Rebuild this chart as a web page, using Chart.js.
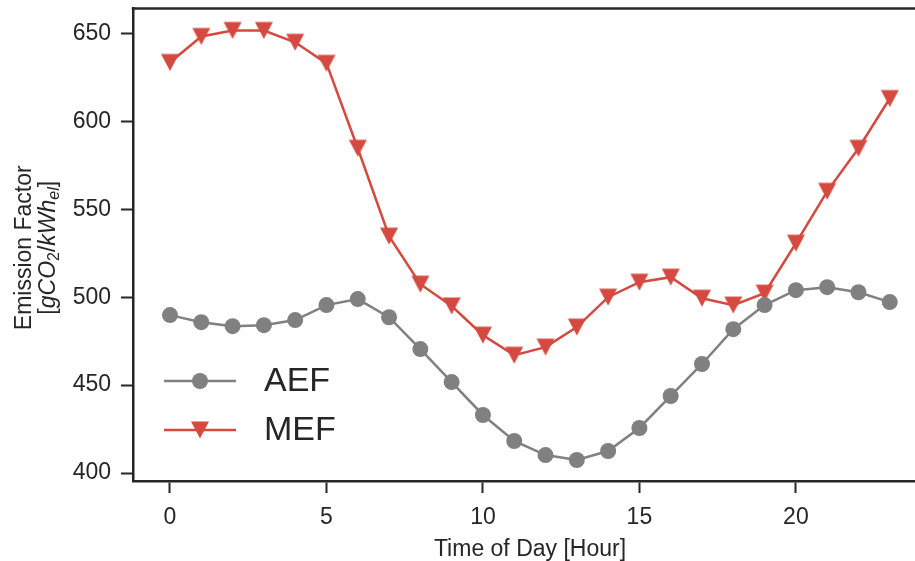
<!DOCTYPE html>
<html>
<head>
<meta charset="utf-8">
<script src="https://cdn.jsdelivr.net/npm/chart.js@4.4.0/dist/chart.umd.min.js"></script>
<style>
  html, body { margin: 0; padding: 0; background: #fff; overflow: hidden; }
  /* chart.js keeps ~12px above the plot for the marker overflow; pull it up a bit */
  canvas { display: block; margin-top: -4px; }
</style>
</head>
<body>
<canvas id="myChart" width="940" height="565"></canvas>
<script>
// hourly emission factors
var hours = [0, 1, 2, 3, 4, 5, 6, 7, 8, 9, 10, 11, 12, 13, 14, 15, 16, 17, 18, 19, 20, 21, 22, 23];
var aefValues = [489.8, 485.8, 483.5, 484.1, 487.0, 495.5, 498.9, 488.6, 470.5, 451.7, 433.0, 418.2,
                 410.2, 407.4, 412.5, 425.6, 443.8, 462.0, 481.8, 495.5, 504.0, 505.7, 502.8, 497.2];
var mefValues = [633.5, 648.3, 651.7, 651.7, 645.0, 633.0, 584.7, 534.7, 507.4, 495.0, 478.4, 467.0,
                 471.6, 483.0, 500.0, 508.5, 511.4, 499.4, 495.5, 502.3, 530.7, 560.2, 584.7, 613.0];
var xTickValues = [0, 5, 10, 15, 20];
var yTickValues = [400, 450, 500, 550, 600, 650];
var seriesNames = ['AEF', 'MEF'];

var ink = '#262626';
var grey = '#808080';
var red = '#d44a40';
var fontFamily = '"Liberation Sans", Arial, sans-serif';

// matplotlib-like "v" marker, centred on its bounding box
function makeTriangle(color) {
  var c = document.createElement('canvas');
  c.width = 20; c.height = 20;
  var g = c.getContext('2d');
  g.fillStyle = color;
  g.beginPath();
  g.moveTo(1, 1.5);
  g.lineTo(19, 1.5);
  g.lineTo(10, 18.5);
  g.closePath();
  g.fill();
  return c;
}
var triangle = makeTriangle(red);

function toPoints(values) {
  return hours.map(function (h, i) { return { x: h, y: values[i] }; });
}

var frame = {
  id: 'frame',
  afterDraw: function (chart) {
    var ctx = chart.ctx;
    var area = chart.chartArea;
    ctx.save();
    // top spine
    ctx.strokeStyle = ink;
    ctx.lineWidth = 2.5;
    ctx.beginPath();
    ctx.moveTo(area.left - 1.25, area.top);
    ctx.lineTo(area.right + 20, area.top);
    ctx.stroke();

    // y axis label with math text
    ctx.fillStyle = ink;
    ctx.translate(31, (area.top + area.bottom) / 2 + 3);
    ctx.rotate(-Math.PI / 2);
    ctx.textBaseline = 'alphabetic';
    ctx.textAlign = 'center';
    ctx.font = '23px ' + fontFamily;
    ctx.fillText('Emission Factor', 0, 0);

    var size = 23, sub = 16;
    var parts = [
      { t: '[', f: size + 'px ' + fontFamily, dy: 0 },
      { t: 'gCO', f: 'italic ' + size + 'px ' + fontFamily, dy: 0 },
      { t: '2', f: sub + 'px ' + fontFamily, dy: 4 },
      { t: '/', f: size + 'px ' + fontFamily, dy: 0 },
      { t: 'kWh', f: 'italic ' + size + 'px ' + fontFamily, dy: 0 },
      { t: 'el', f: 'italic ' + sub + 'px ' + fontFamily, dy: 4 },
      { t: ']', f: size + 'px ' + fontFamily, dy: 0 }
    ];
    var total = 0;
    parts.forEach(function (p) { ctx.font = p.f; p.w = ctx.measureText(p.t).width; total += p.w; });
    var x = -total / 2;
    ctx.textAlign = 'left';
    parts.forEach(function (p) {
      ctx.font = p.f;
      ctx.fillText(p.t, x, 24 + p.dy);
      x += p.w;
    });
    ctx.restore();

    // legend (lower left, inside the axes)
    ctx.save();
    var rows = [
      { name: seriesNames[0], y: 385, color: grey, marker: 'circle' },
      { name: seriesNames[1], y: 434, color: red, marker: 'tri' }
    ];
    rows.forEach(function (r) {
      ctx.strokeStyle = r.color;
      ctx.lineWidth = 2.5;
      ctx.beginPath();
      ctx.moveTo(164, r.y);
      ctx.lineTo(236, r.y);
      ctx.stroke();
      if (r.marker === 'circle') {
        ctx.fillStyle = r.color;
        ctx.beginPath();
        ctx.arc(200, r.y, 8, 0, Math.PI * 2);
        ctx.fill();
      } else {
        ctx.drawImage(triangle, 190, r.y - 10);
      }
      ctx.fillStyle = ink;
      ctx.font = '34px ' + fontFamily;
      ctx.textAlign = 'left';
      ctx.textBaseline = 'middle';
      ctx.fillText(r.name, 264, r.y + 1);
    });
    ctx.restore();
  }
};

var ctx = document.getElementById('myChart').getContext('2d');
var myChart = new Chart(ctx, {
  type: 'line',
  data: {
    datasets: [{
      label: seriesNames[0],
      data: toPoints(aefValues),
      borderColor: grey,
      backgroundColor: grey,
      borderWidth: 2.5,
      pointStyle: 'circle',
      pointRadius: 8,
      pointBorderWidth: 0,
      pointBackgroundColor: grey,
      tension: 0
    }, {
      label: seriesNames[1],
      data: toPoints(mefValues),
      borderColor: red,
      backgroundColor: red,
      borderWidth: 2.5,
      pointStyle: triangle,
      pointRadius: 10,
      tension: 0
    }]
  },
  options: {
    responsive: false,
    animation: false,
    layout: { padding: { top: 0, right: 13, left: 0, bottom: 0 } },
    plugins: {
      legend: { display: false },
      tooltip: { enabled: false }
    },
    scales: {
      x: {
        type: 'linear',
        min: -1.182,
        max: 24.19,
        afterBuildTicks: function (scale) {
          scale.ticks = xTickValues.map(function (v) { return { value: v }; });
        },
        afterFit: function (scale) {
          scale.height = 80;
          scale.paddingLeft = 0;
          scale.paddingRight = 0;
        },
        grid: { drawOnChartArea: false, tickLength: 12, tickWidth: 2, tickColor: ink },
        border: { display: true, color: ink, width: 2.5 },
        ticks: { color: ink, padding: 11, maxRotation: 0, font: { family: fontFamily, size: 23 } },
        title: {
          display: true,
          text: 'Time of Day [Hour]',
          color: ink,
          padding: { top: 0, bottom: -2 },
          font: { family: fontFamily, size: 23 }
        }
      },
      y: {
        min: 395.45,
        max: 664.2,
        afterBuildTicks: function (scale) {
          scale.ticks = yTickValues.map(function (v) { return { value: v }; });
        },
        afterFit: function (scale) {
          scale.width = 133;
          scale.paddingTop = 0;
          scale.paddingBottom = 0;
        },
        grid: { drawOnChartArea: false, tickLength: 12, tickWidth: 2, tickColor: ink },
        border: { display: true, color: ink, width: 2.5 },
        ticks: { color: ink, padding: 10, font: { family: fontFamily, size: 23 } }
      }
    }
  },
  plugins: [frame]
});
</script>
</body>
</html>
